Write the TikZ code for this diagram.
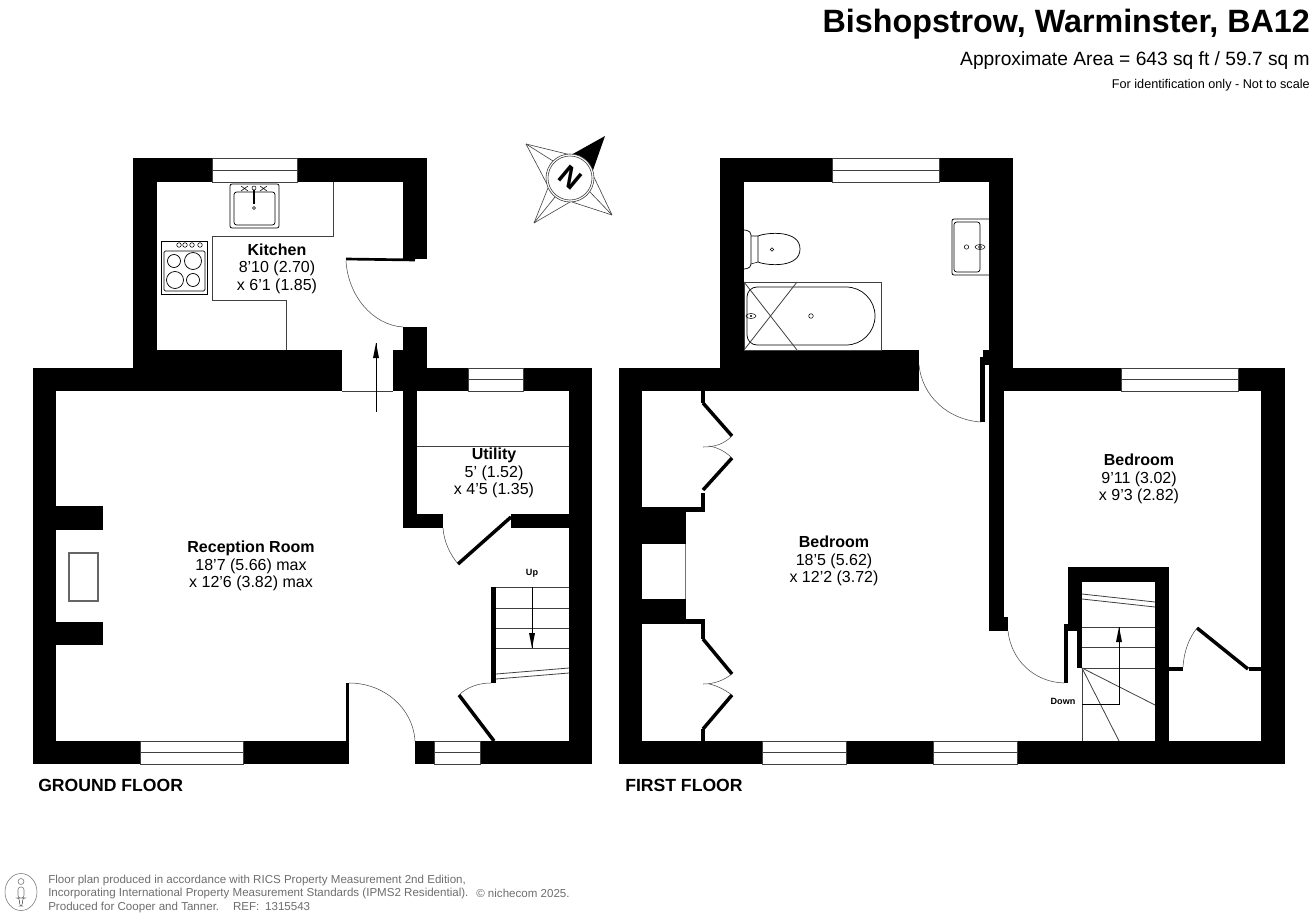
\documentclass[tikz,border=0pt]{standalone}
\usepackage{fontspec}
\setmainfont{Liberation Sans}
\definecolor{thin}{HTML}{404040}
\definecolor{foot}{HTML}{6E6E6E}
\newcommand{\wl}[4]{\fill[black] (#1,#2) rectangle (#3,#4);}
\newcommand{\winh}[4]{\draw[winline] (#1,#2) rectangle (#3,#4); \draw[winline] (#1,{(#2+#4)/2}) -- (#3,{(#2+#4)/2});}
\tikzset{
  fx/.style={draw=black,line width=0.55pt},
  winline/.style={draw=thin,line width=0.6pt,fill=white},
  thinl/.style={draw=thin,line width=0.6pt},
  swing/.style={draw=black!70,line width=0.4pt},
  leaf/.style={draw=black,line width=2.6pt},
  star/.style={draw=black!75,line width=0.45pt},
  lbl/.style={font=\fontsize{12pt}{13.1pt}\selectfont,align=center,inner sep=0pt},
  flr/.style={font=\fontsize{13.2pt}{15pt}\selectfont\bfseries,inner sep=0pt,anchor=west},
  tiny/.style={font=\fontsize{6.8pt}{8pt}\selectfont\bfseries,inner sep=0pt},
  footl/.style={font=\fontsize{8.67pt}{10pt}\selectfont,text=foot,inner sep=0pt,anchor=west},
  arr/.style={draw=black,line width=0.55pt}
}
\begin{document}
\begin{tikzpicture}[x=0.75pt,y=-0.75pt]
\useasboundingbox (0,0) rectangle (1312,920);
\fill[white] (0,0) rectangle (1312,920);
% ---------- Ground floor walls
\wl{133}{158}{157}{368}
\wl{133}{158}{212}{182}
\wl{297}{158}{427}{182}
\wl{403}{158}{427}{259}
\wl{403}{327}{427}{391}
\wl{133}{350}{342}{391}
\wl{393}{350}{403}{391}
\wl{33}{368}{342}{391}
\wl{427}{368}{468}{391}
\wl{523}{368}{592}{391}
\wl{33}{368}{56}{764}
\wl{569}{368}{592}{764}
\wl{33}{741}{140}{764}
\wl{243}{741}{349}{764}
\wl{415}{741}{434}{764}
\wl{480}{741}{592}{764}
\wl{403}{391}{417}{528}
\wl{403}{514}{443}{528}
\wl{511}{514}{569}{528}
\wl{56}{506}{103}{530}
\wl{56}{622}{103}{645}
\wl{491}{587}{496}{683}
\wl{346}{683}{349}{741}
\winh{212}{158}{297}{182}
\winh{468}{368}{523}{391}
\winh{140}{741}{243}{764}
\winh{434}{741}{480}{764}
\draw[thinl] (342,391) -- (393,391);
% hearth
\draw[draw=black!60,line width=0.8pt] (69,553) rectangle (98,601);
% kitchen units
\draw[thinl] (333,182) -- (333,236) -- (212,236) -- (212,300) -- (286,300) -- (286,350);
\draw[fx,rounded corners=1.5pt] (230,184) rectangle (279,228);
\draw[fx,rounded corners=2pt] (234,192) rectangle (275,225);
\draw[fx,line width=0.8pt] (254,190) -- (254,204);
\draw[fx,line width=0.4pt] (254,208) circle (1.5);
\draw[fx,line width=0.4pt] (254,188) circle (2);
\draw[fx,line width=0.4pt] (241,186) -- (248,191) (241,191) -- (248,186) (260,186) -- (267,191) (260,191) -- (267,186);
\draw[fx] (161,241) rectangle (207,294);
\draw[fx,rounded corners=1pt] (164,251) rectangle (205,291);
\foreach \cx/\cy/\r in {174/261/6.5,193/261/8.5,175/280/8.5,193/280/6.5}{\draw[fx] (\cx,\cy) circle (\r);}
\foreach \cx in {179,185,192,200}{\draw[fx,line width=0.4pt] (\cx,245) circle (2.3);}
% kitchen door
\draw[leaf,line width=2pt] (346,259) -- (415,260);
\draw[swing] (346,261) .. controls (348,295) and (372,325) .. (403,327);
% entry arrow
\coordinate (arK0) at (376,412); \coordinate (arK1) at (376,343);
\draw[arr] (arK0) -- (arK1);
\fill[black] (376,343) -- (373,358) -- (379,358) -- cycle;
% utility
\draw[thinl] (417,446) -- (569,446);
\draw[leaf] (511,517) -- (458,564);
\draw[swing] (443,528) .. controls (444,541) and (449,553) .. (458,564);
% stairs
\foreach \y in {587,608,628,648}{\draw[thinl] (496,\y) -- (569,\y);}
\draw[thinl] (496,674) -- (569,668);
\draw[thinl] (496,679) -- (569,673);
\coordinate (arU0) at (532,587); \coordinate (arU1) at (532,648);
\draw[arr] (arU0) -- (arU1);
\fill[black] (532,648) -- (529,633) -- (535,633) -- cycle;
\draw[leaf] (459,695) -- (494,741);
\draw[swing] (459,695) .. controls (467,687) and (479,683) .. (491,683);
\draw[swing] (415,741) .. controls (413,708) and (384,683) .. (349,683);
% ---------- First floor walls
\wl{720}{158}{744}{368}
\wl{744}{158}{832}{182}
\wl{939}{158}{1013}{182}
\wl{989}{158}{1013}{391}
\wl{720}{350}{919}{391}
\wl{619}{368}{720}{391}
\wl{619}{368}{642}{764}
\wl{983}{350}{989}{358}
\wl{980}{357}{989}{365}
\wl{980}{357}{985}{422}
\wl{989}{365}{1004}{631}
\wl{1004}{617}{1008}{631}
\wl{1064}{624}{1068}{683}
\wl{1013}{368}{1121}{391}
\wl{1238}{368}{1285}{391}
\wl{1261}{368}{1285}{764}
\wl{619}{741}{762}{764}
\wl{846}{741}{933}{764}
\wl{1017}{741}{1285}{764}
\wl{642}{507}{686}{544}
\wl{642}{599}{686}{624}
\wl{686}{507}{705}{512}
\wl{686}{619}{705}{624}
\wl{701}{391}{705}{403}
\wl{701}{493}{705}{512}
\wl{701}{619}{705}{639}
\wl{701}{729}{705}{741}
\draw[draw=black!55,line width=0.7pt] (685.5,544) -- (685.5,599);
\winh{832}{158}{939}{182}
\winh{1121}{368}{1238}{391}
\winh{762}{741}{846}{764}
\winh{933}{741}{1017}{764}
% stair closet
\wl{1068}{567}{1169}{582}
\wl{1068}{567}{1082}{631}
\wl{1077}{631}{1082}{668}
\wl{1155}{567}{1169}{741}
\foreach \y in {627,647,668}{\draw[thinl] (1082,\y) -- (1155,\y);}
\draw[thinl] (1082,594) -- (1155,602);
\draw[thinl] (1082,599) -- (1155,607);
\draw[thinl] (1082,668) -- (1082,741);
\draw[thinl] (1082,668) -- (1155,705);
\draw[thinl] (1082,668) -- (1119,741);
\coordinate (arD0) at (1082,704); \coordinate (arD1) at (1119,704); \coordinate (arD2) at (1119,627);
\draw[arr] (arD0) -- (arD1) -- (arD2);
\fill[black] (1119,627) -- (1116,642) -- (1122,642) -- cycle;
% doors first floor
\draw[swing] (919,365) .. controls (922,396) and (948,420) .. (981,422);
\draw[swing] (1008,631) .. controls (1011,660) and (1034,682) .. (1064,683);
\wl{1169}{667}{1183}{671}
\wl{1249}{667}{1261}{671}
\draw[leaf] (1197,628) -- (1248,669);
\draw[swing] (1183,667) .. controls (1184,651) and (1189,638) .. (1197,628);
% wardrobes
\draw[leaf] (703,403) -- (732,436);
\draw[leaf] (732,458) -- (703,490);
\draw[leaf] (703,639) -- (732,674);
\draw[leaf] (732,695) -- (703,729);
\draw[swing] (732,436) .. controls (724,444) and (715,447) .. (703,447);
\draw[swing] (732,458) .. controls (724,450) and (715,447) .. (709,446);
\draw[swing] (732,674) .. controls (724,680) and (715,684) .. (703,684);
\draw[swing] (732,695) .. controls (724,689) and (715,685) .. (709,684);
% bath
\draw[thinl] (744,282) rectangle (881,350);
\draw[fx] (757,287) -- (846,287) arc (-90:90:29) -- (757,345) arc (90:180:10) -- (747,297) arc (180:270:10) -- cycle;
\draw[thinl] (744,282) -- (797,350);
\draw[thinl] (797,282) -- (744,350);
\draw[fx,line width=0.4pt] (811,316) circle (2.3);
\draw[fx,line width=0.4pt] (751,316) ellipse (5 and 2.5);
\fill[black] (751,316) circle (1.2);
% toilet
\draw[fx,rounded corners=3pt] (744,230) -- (751,231) -- (751,268) -- (744,269);
\draw[fx] (758,236) .. controls (768,232) and (800,230) .. (800,249) .. controls (800,268) and (768,266) .. (758,262) -- cycle;
\draw[fx,line width=0.4pt] (751,236) -- (758,236) (751,264) -- (758,262);
\draw[fx,line width=0.4pt] (772,249.5) circle (1.8);
% basin
\draw[fx,rounded corners=1.5pt] (989,219) -- (952,219) -- (952,275) -- (989,275);
\draw[fx,rounded corners=2pt] (954,222) rectangle (980,272);
\draw[fx,line width=0.4pt] (966.5,247) circle (2.2);
\draw[fx,line width=0.4pt] (980,247) ellipse (5 and 2.5);
\draw[fx,line width=0.4pt] (980,247) circle (1.6);
% ---------- Compass
\coordinate (cc) at (570,178);
\coordinate (tNE) at (605,136); \coordinate (tNW) at (526,144);
\coordinate (tSE) at (612,215); \coordinate (tSW) at (534,223);
\fill[black] (tNE) -- (571,155) -- (592,173) -- cycle;
\draw[star] (tNW) -- (571,155);
\draw[star] (tNW) -- (548,186);
\draw[star] (tNW) -- (553,161);
\draw[star] (tSW) -- (548,188);
\draw[star] (tSW) -- (570,202);
\draw[star] (tSW) -- (555,197);
\draw[star] (tSE) -- (572,202);
\draw[star] (tSE) -- (592,173);
\draw[star] (tSE) -- (590,192);
\fill[white] (cc) circle (24);
\draw[star] (cc) circle (24);
\draw[star] (cc) circle (22);
\node[rotate=-40,inner sep=0pt,font=\fontsize{21pt}{21pt}\selectfont\bfseries] (northN) at (cc) {N};
% ---------- Footer icon
\draw[draw=black!55,line width=0.4pt] (21,892) ellipse (16 and 18.5);
\draw[draw=black!55,line width=0.4pt] (21,881.5) circle (3);
\draw[draw=black!55,line width=0.4pt,rounded corners=2pt] (18,887) -- (24,887) -- (24,898) -- (22.5,898) -- (22.5,906) -- (19.5,906) -- (19.5,898) -- (18,898) -- cycle;
% ---------- Text
\node[inner sep=0pt,anchor=east,font=\fontsize{24.2pt}{28pt}\selectfont\bfseries] (ttl) at (1310,24) {Bishopstrow, Warminster, BA12};
\node[inner sep=0pt,anchor=east,font=\fontsize{14.4pt}{16pt}\selectfont] (area) at (1310,61) {Approximate Area = 643 sq ft / 59.7 sq m};
\node[inner sep=0pt,anchor=east,font=\fontsize{9.5pt}{11pt}\selectfont] (ident) at (1310,85) {For identification only - Not to scale};
\node[lbl] (kit) at (277,268.5) {\textbf{Kitchen}\\8'10 (2.70)\\x 6'1 (1.85)};
\node[lbl] (uti) at (494,473) {\textbf{Utility}\\5' (1.52)\\x 4'5 (1.35)};
\node[lbl] (rec) at (251,566) {\textbf{Reception Room}\\18'7 (5.66) max\\x 12'6 (3.82) max};
\node[lbl] (bed1) at (834,561) {\textbf{Bedroom}\\18'5 (5.62)\\x 12'2 (3.72)};
\node[lbl] (bed2) at (1139,479) {\textbf{Bedroom}\\9'11 (3.02)\\x 9'3 (2.82)};
\node[tiny] (up) at (532,573) {Up};
\node[tiny] (down) at (1063,701) {Down};
\node[flr] (gf) at (38,785.5) {GROUND FLOOR};
\node[flr] (ff) at (625,785.5) {FIRST FLOOR};
\node[footl] (f1) at (48,880) {Floor plan produced in accordance with RICS Property Measurement 2nd Edition,};
\node[footl] (f2) at (48,893.5) {Incorporating International Property Measurement Standards (IPMS2 Residential).};
\node[footl] (f2b) at (476,893.5) {© nichecom 2025.};
\node[footl] (f3) at (48,907) {Produced for Cooper and Tanner.\hspace{1.2em}REF:\hspace{0.5em}1315543};
\end{tikzpicture}
\end{document}
